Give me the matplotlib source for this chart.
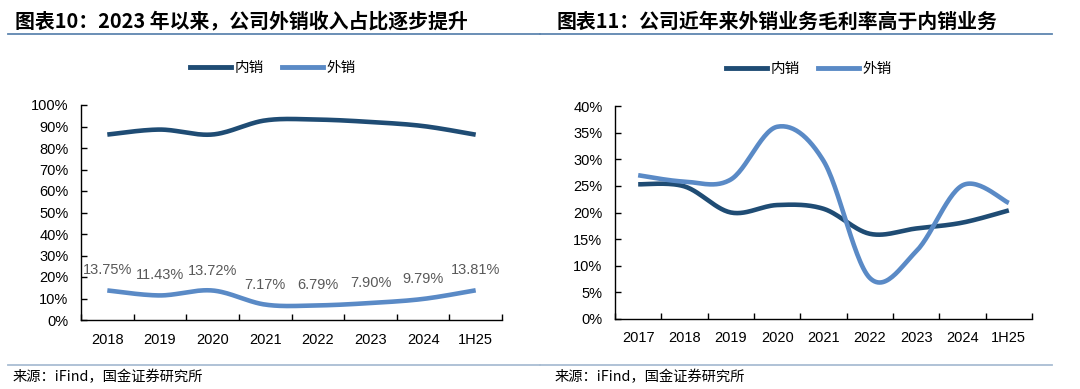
import numpy as np
import matplotlib
matplotlib.use("Agg")
import matplotlib.pyplot as plt
from matplotlib.lines import Line2D

plt.rcParams['font.family'] = ['Liberation Sans', 'Noto Sans CJK SC', 'DejaVu Sans']

# ---------------- data ----------------
left_title = "图表10：2023 年以来，公司外销收入占比逐步提升"
right_title = "图表11：公司近年来外销业务毛利率高于内销业务"
source_text = "来源：iFind，国金证券研究所"
series_names = ["内销", "外销"]

left_categories = ["2018", "2019", "2020", "2021", "2022", "2023", "2024", "1H25"]
left_export = [13.75, 11.43, 13.72, 7.17, 6.79, 7.90, 9.79, 13.81]
left_domestic = [86.25, 88.57, 86.28, 92.83, 93.21, 92.10, 90.21, 86.19]
left_labels = ["13.75%", "11.43%", "13.72%", "7.17%", "6.79%", "7.90%", "9.79%", "13.81%"]

right_categories = ["2017", "2018", "2019", "2020", "2021", "2022", "2023", "2024", "1H25"]
right_domestic = [25.3, 24.9, 20.0, 21.4, 20.7, 16.0, 17.0, 18.1, 20.4]
right_export = [27.0, 25.8, 26.2, 36.1, 29.7, 7.7, 12.7, 25.1, 21.8]

DARK = "#1F4C74"
LIGHT = "#5A8AC6"
TITLE_LINE = "#5E86B0"
BOTTOM_LINE = "#A9BDD3"

W, H = 1080, 389
fig = plt.figure(figsize=(W / 100, H / 100), dpi=100)


def px_axes(left, top, right, bottom):
    return fig.add_axes([left / W, 1 - bottom / H, (right - left) / W, (bottom - top) / H])


def smooth(xs, ys, n=30):
    pts = np.column_stack([xs, ys]).astype(float)
    m = len(pts)
    out = []
    for i in range(m - 1):
        p0 = pts[i - 1] if i > 0 else pts[i]
        p1 = pts[i]
        p2 = pts[i + 1]
        p3 = pts[i + 2] if i + 2 < m else pts[i + 1]
        c1 = p1 + (p2 - p0) / 6.0
        c2 = p2 - (p3 - p1) / 6.0
        t = np.linspace(0, 1, n)[:, None]
        seg = ((1 - t) ** 3) * p1 + 3 * ((1 - t) ** 2) * t * c1 + 3 * (1 - t) * t ** 2 * c2 + t ** 3 * p2
        out.append(seg if i == 0 else seg[1:])
    out = np.vstack(out)
    return out[:, 0], out[:, 1]


def style_axes(ax, cats, ymax, ystep):
    n = len(cats)
    ax.set_xlim(-0.5, n - 0.5)
    ax.set_ylim(0, ymax)
    for s in ["top", "right"]:
        ax.spines[s].set_visible(False)
    for s in ["left", "bottom"]:
        ax.spines[s].set_color("#000000")
        ax.spines[s].set_linewidth(1.0)
    ax.set_xticks(np.arange(n))
    ax.set_xticklabels(cats, fontsize=10.5)
    ax.set_xticks(np.arange(n + 1) - 0.5, minor=True)
    ax.tick_params(axis='x', which='major', length=0, pad=9)
    ax.tick_params(axis='x', which='minor', length=4, direction='in', width=1)
    yt = np.arange(0, ymax + 0.001, ystep)
    ax.set_yticks(yt)
    ax.set_yticklabels([f"{int(v)}%" for v in yt], fontsize=10.5)
    ax.tick_params(axis='y', length=4, direction='in', width=1, pad=9)


# ---------------- left chart ----------------
axL = px_axes(81, 105, 502, 320)
style_axes(axL, left_categories, 100, 10)
xL = np.arange(len(left_categories))
sx, sy = smooth(xL, left_domestic)
axL.plot(sx, sy, color=DARK, lw=3.3, solid_capstyle='butt')
sx, sy = smooth(xL, left_export)
axL.plot(sx, sy, color=LIGHT, lw=3.3, solid_capstyle='butt')
for x, y, lab in zip(xL, left_export, left_labels):
    axL.annotate(lab, (x, y), xytext=(0, 20), textcoords='offset pixels',
                 ha='center', va='center', fontsize=10.5, color="#595959")

# ---------------- right chart ----------------
axR = px_axes(615, 106, 1032, 319)
style_axes(axR, right_categories, 40, 5)
xR = np.arange(len(right_categories))
sx, sy = smooth(xR, right_domestic)
axR.plot(sx, sy, color=DARK, lw=3.3, solid_capstyle='butt')
sx, sy = smooth(xR, right_export)
axR.plot(sx, sy, color=LIGHT, lw=3.3, solid_capstyle='butt')

# ---------------- titles, lines, legends, sources ----------------
cjk = ['Noto Sans CJK SC', 'DejaVu Sans']
fig.text(15 / W, 1 - 21 / H, left_title, fontsize=14.3, fontweight='bold',
         family=cjk, ha='left', va='center', color="#000000")
fig.text(557 / W, 1 - 21 / H, right_title, fontsize=14.3, fontweight='bold',
         family=cjk, ha='left', va='center', color="#000000")

fig.add_artist(Line2D([8 / W, 540 / W], [1 - 34 / H] * 2, color=TITLE_LINE, lw=1.3))
fig.add_artist(Line2D([540 / W, 1052 / W], [1 - 34 / H] * 2, color=TITLE_LINE, lw=1.3))
fig.add_artist(Line2D([8 / W, 540 / W], [1 - 365 / H] * 2, color=BOTTOM_LINE, lw=1.3))
fig.add_artist(Line2D([540 / W, 1052 / W], [1 - 365 / H] * 2, color=BOTTOM_LINE, lw=1.3))

fig.text(13 / W, 1 - 377 / H, source_text, fontsize=10.3, family=cjk,
         ha='left', va='center', color="#000000")
fig.text(555 / W, 1 - 377 / H, source_text, fontsize=10.3, family=cjk,
         ha='left', va='center', color="#000000")

handles = [Line2D([], [], color=DARK, lw=3.5), Line2D([], [], color=LIGHT, lw=3.5)]
for cx, cy in [(273, 68), (809, 69)]:
    fig.legend(handles, series_names, loc='center', bbox_to_anchor=(cx / W, 1 - cy / H),
               ncol=2, frameon=False, handlelength=2.8, handletextpad=0.3,
               columnspacing=1.2, prop={'family': cjk, 'size': 10.5})

fig.savefig("out.png", dpi=100)
